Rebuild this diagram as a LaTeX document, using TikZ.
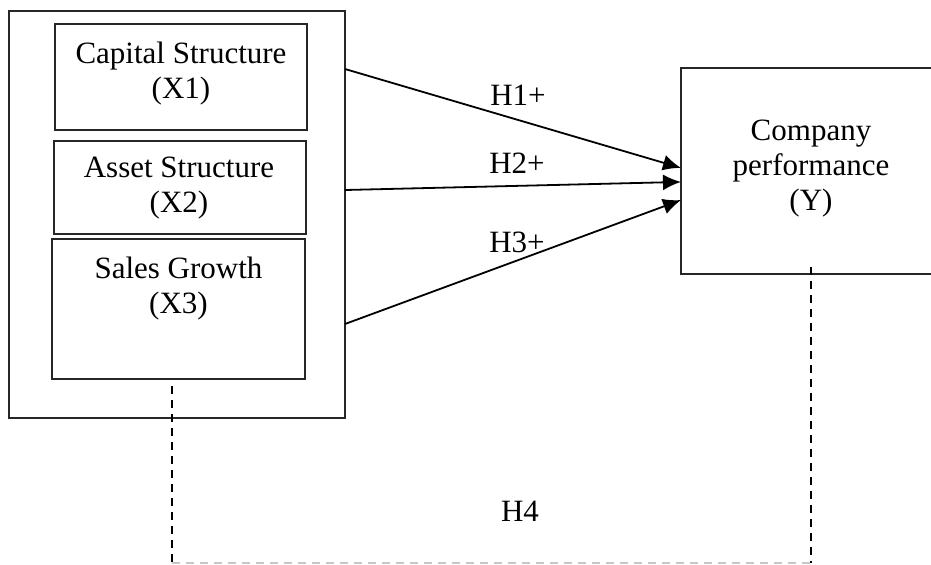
\documentclass[tikz,border=0pt]{standalone}
\usepackage{fontspec}
\setmainfont{Liberation Serif}
\usetikzlibrary{arrows.meta,calc}
\begin{document}
\begin{tikzpicture}[x=0.5pt,y=-0.5pt,
  box/.style={draw=black!85, line width=0.6pt, rectangle, inner sep=0pt, outer sep=0pt, anchor=north west},
  lbl/.style={font=\fontsize{15.5}{17.5}\selectfont, align=center, inner sep=0pt, outer sep=0pt},
  arr/.style={line width=0.9pt, -{Latex[length=9pt,width=8pt]}},
  vdash/.style={line width=1pt, dash pattern=on 4pt off 3pt},
  hdash/.style={line width=0.6pt, draw=black!22, dash pattern=on 4pt off 3pt}]
\useasboundingbox (0,0) rectangle (931,564);
\clip (0,0) rectangle (931,564);
% boxes
\node[box, minimum width=168pt, minimum height=203.5pt] (outer) at (9,11) {};
\node[box, minimum width=126pt, minimum height=53pt] (b1) at (55,24) {};
\node[box, minimum width=126pt, minimum height=46.5pt] (b2) at (54,141) {};
\node[box, minimum width=126.5pt, minimum height=70pt] (b3) at (52,239) {};
\node[box, minimum width=130pt, minimum height=103pt] (perf) at (681,68) {};
% texts
\node[lbl, anchor=north] (t1) at (181,41.5) {Capital Structure\\(X1)};
\node[lbl, anchor=north] (t2) at (179,157) {Asset Structure\\(X2)};
\node[lbl, anchor=north] (t3) at (178.5,256.5) {Sales Growth\\(X3)};
\node[lbl, anchor=north] (ty) at (811,120) {Company\\performance\\(Y)};
% arrows
\draw[arr] ($(outer.north east)!0.1425!(outer.south east)$) -- ($(perf.north west)!0.485!(perf.south west)$);
\draw[arr] ($(outer.north east)!0.4398!(outer.south east)$) -- ($(perf.north west)!0.553!(perf.south west)$);
\draw[arr] ($(outer.north east)!0.769!(outer.south east)$) -- ($(perf.north west)!0.641!(perf.south west)$);
\node[lbl, anchor=base] (h1) at (518,105) {H1+};
\node[lbl, anchor=base] (h2) at (517,173) {H2+};
\node[lbl, anchor=base] (h3) at (517,252) {H3+};
% dashed H4 link
\coordinate (d1) at (172,386);
\coordinate (d2) at (172,563);
\coordinate (d3) at (811,563);
\coordinate (d4) at ($(perf.south)+(0,-7)$);
\draw[hdash] (d2) -- (d3);
\draw[vdash] (d1) -- (d2);
\draw[vdash] (d4) -- (d3);
\node[lbl, anchor=base] (h4) at (520,521) {H4};
\end{tikzpicture}
\end{document}
